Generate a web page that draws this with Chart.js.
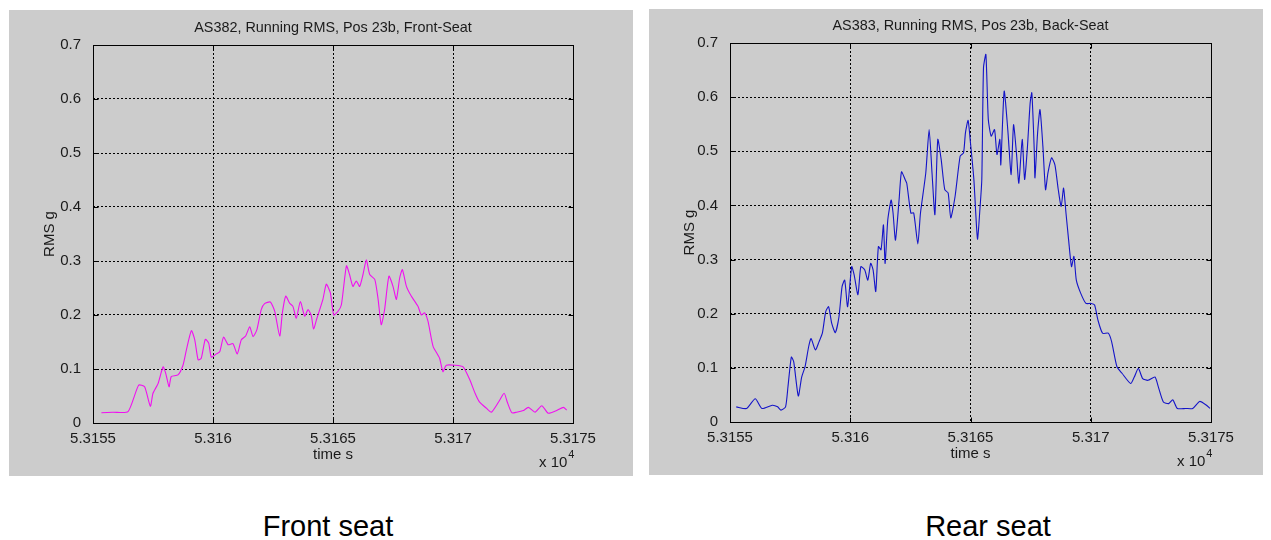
<!DOCTYPE html>
<html>
<head>
<meta charset="utf-8">
<script src="https://cdn.jsdelivr.net/npm/chart.js@4.4.1/dist/chart.umd.min.js"></script>
<style>
body { margin:0; background:#fff; width:1271px; height:540px; position:relative; overflow:hidden; font-family:'Liberation Sans', Arial, sans-serif; }
.panel { position:absolute; background:#cccccc; }
.caption { position:absolute; width:300px; font-size:29px; line-height:29px; text-align:center; color:#000; }
</style>
</head>
<body>
<div class="panel" style="left:9px;top:10px;width:624px;height:466px"><canvas id="front" width="624" height="466"></canvas></div>
<div class="panel" style="left:649px;top:9px;width:614px;height:466px"><canvas id="rear" width="614" height="466"></canvas></div>
<div class="caption" style="left:178px;top:512px">Front seat</div>
<div class="caption" style="left:838px;top:512px">Rear seat</div>
<script>
// time in seconds, running RMS in g
var frontTime = [53155.35, 53155.83, 53156.46, 53156.90, 53157.15, 53157.39, 53157.50, 53157.71, 53157.92, 53158.03,
    53158.17, 53158.26, 53158.54, 53158.75, 53158.89, 53159.10, 53159.24, 53159.38, 53159.51, 53159.68,
    53159.82, 53159.93, 53160.14, 53160.28, 53160.44, 53160.63, 53160.83, 53161.01, 53161.18, 53161.36,
    53161.53, 53161.67, 53161.83, 53162.01, 53162.15, 53162.39, 53162.57, 53162.78, 53162.89, 53163.03,
    53163.19, 53163.33, 53163.47, 53163.64, 53163.82, 53163.96, 53164.10, 53164.19, 53164.33, 53164.58,
    53164.72, 53164.89, 53165.03, 53165.21, 53165.35, 53165.56, 53165.69, 53165.83, 53165.97, 53166.11,
    53166.25, 53166.39, 53166.53, 53166.74, 53166.88, 53167.01, 53167.15, 53167.33, 53167.50, 53167.64,
    53167.78, 53167.89, 53168.06, 53168.26, 53168.54, 53168.68, 53168.82, 53168.96, 53169.17, 53169.44,
    53169.58, 53169.72, 53170.07, 53170.42, 53170.70, 53170.92, 53171.10, 53171.40, 53171.60, 53171.90,
    53172.13, 53172.26, 53172.45, 53172.65, 53172.93, 53173.14, 53173.42, 53173.70, 53173.97, 53174.32,
    53174.60, 53174.74];
var frontRms = [0.019, 0.020, 0.021, 0.070, 0.067, 0.031, 0.055, 0.073, 0.104, 0.092,
    0.067, 0.086, 0.089, 0.107, 0.135, 0.171, 0.154, 0.117, 0.120, 0.155,
    0.148, 0.122, 0.128, 0.132, 0.159, 0.145, 0.147, 0.128, 0.154, 0.161,
    0.178, 0.160, 0.173, 0.210, 0.221, 0.224, 0.207, 0.161, 0.204, 0.235,
    0.222, 0.216, 0.194, 0.225, 0.198, 0.210, 0.198, 0.174, 0.194, 0.229,
    0.257, 0.241, 0.200, 0.207, 0.219, 0.291, 0.275, 0.253, 0.263, 0.253,
    0.275, 0.302, 0.275, 0.266, 0.229, 0.182, 0.210, 0.272, 0.253, 0.229,
    0.269, 0.284, 0.253, 0.235, 0.216, 0.200, 0.204, 0.188, 0.142, 0.120,
    0.095, 0.107, 0.107, 0.104, 0.080, 0.055, 0.039, 0.027, 0.020, 0.039,
    0.055, 0.039, 0.019, 0.020, 0.023, 0.029, 0.020, 0.032, 0.018, 0.023,
    0.029, 0.024];

var rearTime = [53155.26, 53155.69, 53156.05, 53156.33, 53156.76, 53156.98, 53157.12, 53157.31, 53157.41, 53157.55,
    53157.65, 53157.84, 53157.98, 53158.12, 53158.27, 53158.37, 53158.55, 53158.70, 53158.84, 53158.98,
    53159.10, 53159.23, 53159.38, 53159.53, 53159.66, 53159.77, 53159.89, 53160.06, 53160.16, 53160.32,
    53160.44, 53160.60, 53160.73, 53160.85, 53160.95, 53161.06, 53161.17, 53161.28, 53161.38, 53161.45,
    53161.56, 53161.70, 53161.78, 53161.88, 53162.03, 53162.13, 53162.28, 53162.35, 53162.52, 53162.64,
    53162.81, 53162.92, 53163.14, 53163.28, 53163.40, 53163.52, 53163.64, 53163.78, 53163.93, 53164.07,
    53164.18, 53164.36, 53164.57, 53164.71, 53164.79, 53164.90, 53165.00, 53165.14, 53165.29, 53165.39,
    53165.47, 53165.54, 53165.64, 53165.74, 53165.86, 53166.00, 53166.10, 53166.22, 53166.26, 53166.40,
    53166.55, 53166.69, 53166.79, 53166.91, 53167.01, 53167.15, 53167.25, 53167.36, 53167.48, 53167.55,
    53167.65, 53167.68, 53167.79, 53167.89, 53168.01, 53168.12, 53168.22, 53168.37, 53168.51, 53168.65,
    53168.77, 53168.87, 53168.97, 53169.08, 53169.20, 53169.30, 53169.40, 53169.58, 53169.80, 53170.01,
    53170.16, 53170.30, 53170.49, 53170.73, 53170.87, 53171.09, 53171.30, 53171.66, 53171.81, 53171.98,
    53172.16, 53172.38, 53172.67, 53172.81, 53173.02, 53173.24, 53173.41, 53173.60, 53173.95, 53174.24,
    53174.53, 53174.81, 53174.96];
var rearRms = [0.028, 0.025, 0.043, 0.025, 0.031, 0.028, 0.022, 0.028, 0.065, 0.120,
    0.111, 0.048, 0.083, 0.102, 0.139, 0.154, 0.133, 0.148, 0.164, 0.204,
    0.213, 0.182, 0.165, 0.194, 0.250, 0.262, 0.213, 0.287, 0.272, 0.235,
    0.287, 0.281, 0.262, 0.293, 0.281, 0.241, 0.324, 0.318, 0.364, 0.293,
    0.373, 0.410, 0.386, 0.336, 0.410, 0.462, 0.448, 0.441, 0.386, 0.386,
    0.329, 0.386, 0.460, 0.540, 0.460, 0.383, 0.522, 0.485, 0.429, 0.423,
    0.377, 0.417, 0.491, 0.497, 0.534, 0.557, 0.515, 0.448, 0.338, 0.392,
    0.448, 0.654, 0.679, 0.559, 0.528, 0.540, 0.494, 0.522, 0.475, 0.611,
    0.540, 0.457, 0.549, 0.497, 0.441, 0.522, 0.448, 0.503, 0.589, 0.608,
    0.503, 0.451, 0.534, 0.577, 0.509, 0.429, 0.460, 0.488, 0.475, 0.429,
    0.398, 0.432, 0.386, 0.336, 0.287, 0.306, 0.262, 0.238, 0.219, 0.219,
    0.216, 0.188, 0.164, 0.164, 0.148, 0.102, 0.090, 0.071, 0.083, 0.099,
    0.080, 0.077, 0.083, 0.065, 0.037, 0.034, 0.041, 0.025, 0.025, 0.025,
    0.038, 0.031, 0.025];

var xTickValues = [53155, 53160, 53165, 53170, 53175];
var yTickValues = [0, 0.1, 0.2, 0.3, 0.4, 0.5, 0.6, 0.7];

var tickFont = "'Liberation Sans Narrow', 'Liberation Sans', Arial, sans-serif";

//matlab style box, inward ticks and labels
var matlabAxes = {
    id: 'matlabAxes',
    afterDraw: function(chart, args, opts) {
        var ctx = chart.ctx;
        var a = chart.chartArea;
        var xs = chart.scales.x, ys = chart.scales.y;
        var l = Math.round(a.left) + 0.5, r = Math.round(a.right) + 0.5;
        var t = Math.round(a.top) + 0.5, b = Math.round(a.bottom) + 0.5;
        ctx.save();
        ctx.strokeStyle = '#000';
        ctx.lineWidth = 1;
        ctx.setLineDash([]);
        ctx.beginPath();
        for(let i=0; i<xTickValues.length; i++) {
            let px = Math.round(xs.getPixelForValue(xTickValues[i])) + 0.5;
            ctx.moveTo(px, b); ctx.lineTo(px, b-5);
            ctx.moveTo(px, t); ctx.lineTo(px, t+5);
        }
        for(let i=0; i<yTickValues.length; i++) {
            let py = Math.round(ys.getPixelForValue(yTickValues[i])) + 0.5;
            ctx.moveTo(l, py); ctx.lineTo(l+5, py);
            ctx.moveTo(r, py); ctx.lineTo(r-5, py);
        }
        ctx.stroke();
        ctx.strokeRect(l, t, r-l, b-t);

        let cx = (a.left + a.right) / 2;
        ctx.fillStyle = '#1a1a1a';
        ctx.textAlign = 'center';
        ctx.textBaseline = 'middle';
        ctx.font = "14.4px 'Liberation Sans', Arial, sans-serif";
        ctx.fillText(opts.title, cx, a.top - 17);
        ctx.font = "15px " + tickFont;
        ctx.fillText('time s', cx, a.bottom + 32);
        ctx.save();
        ctx.translate(41, (a.top + a.bottom) / 2);
        ctx.rotate(-Math.PI / 2);
        ctx.fillText('RMS g', 0, 0);
        ctx.restore();

        ctx.textAlign = 'left';
        ctx.textBaseline = 'alphabetic';
        let ex = a.right - 34;
        ctx.fillText('x 10', ex, a.bottom + 44);
        let w = ctx.measureText('x 10').width;
        ctx.font = "11px " + tickFont;
        ctx.fillText('4', ex + w + 1, a.bottom + 35);
        ctx.restore();
    }
};

function makeChart(id, times, values, color, title, pad) {
    let points = [];
    for(let i=0; i<times.length; i++) {
        points.push({x: times[i], y: values[i]});
    }
    let ctx = document.getElementById(id).getContext('2d');
    return new Chart(ctx, {
        type: 'line',
        data: {
            datasets: [{
                data: points,
                borderColor: color,
                borderWidth: 1.1,
                pointRadius: 0,
                tension: 0.2,
                fill: false
            }]
        },
        options: {
            responsive: false,
            animation: false,
            layout: { padding: { top: pad.top, right: pad.right, left: 0, bottom: 0 } },
            plugins: {
                legend: { display: false },
                tooltip: { enabled: false },
                matlabAxes: { title: title }
            },
            scales: {
                x: {
                    type: 'linear',
                    min: 53155,
                    max: 53175,
                    afterBuildTicks: function(scale) {
                        scale.ticks = xTickValues.map(function(v) { return {value: v}; });
                    },
                    afterFit: function(scale) { scale.height = 53; },
                    grid: { color: '#000', lineWidth: 1, drawTicks: false },
                    border: { display: false, dash: [2, 2] },
                    ticks: {
                        padding: 7,
                        maxRotation: 0,
                        autoSkip: false,
                        color: '#1a1a1a',
                        font: { family: tickFont, size: 15 },
                        callback: function(v) { return parseFloat((v / 1e4).toFixed(4)).toString(); }
                    }
                },
                y: {
                    min: 0,
                    max: 0.7,
                    afterBuildTicks: function(scale) {
                        scale.ticks = yTickValues.map(function(v) { return {value: v}; });
                    },
                    afterFit: function(scale) { scale.width = pad.left; },
                    grid: { color: '#000', lineWidth: 1, drawTicks: false },
                    border: { display: false, dash: [2, 2] },
                    ticks: {
                        padding: 12,
                        color: '#1a1a1a',
                        font: { family: tickFont, size: 15 },
                        callback: function(v) { return parseFloat(v.toFixed(1)).toString(); }
                    }
                }
            }
        },
        plugins: [matlabAxes]
    });
}

makeChart('front', frontTime, frontRms, '#f010f0', 'AS382, Running RMS, Pos 23b, Front-Seat', {top: 35, right: 60, left: 84});
makeChart('rear', rearTime, rearRms, '#1414c8', 'AS383, Running RMS, Pos 23b, Back-Seat', {top: 34, right: 52, left: 81});
</script>
</body>
</html>
